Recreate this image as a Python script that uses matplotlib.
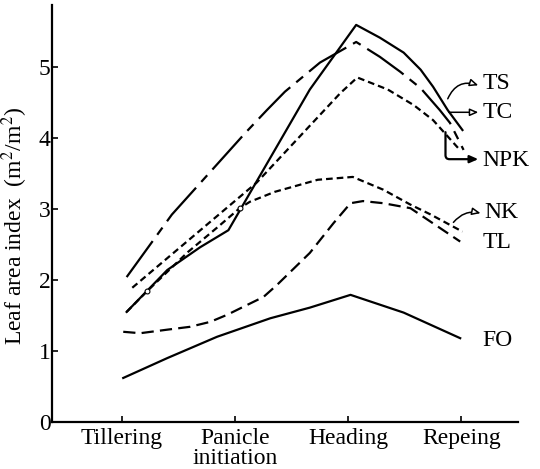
import matplotlib
matplotlib.use("Agg")
import matplotlib.pyplot as plt

plt.rcParams["font.family"] = ["Liberation Serif", "DejaVu Serif"]
plt.rcParams["mathtext.fontset"] = "stix"

# growth stages on the x axis (1 = tillering ... 4 = ripening)
stage_labels = ["Tillering", "Panicle\ninitiation", "Heading", "Repeing"]
stage_pos = [1, 2, 3, 4]

# leaf area index of each treatment (stage, LAI)
ts_x = [1.04, 1.40, 1.69, 1.94, 2.66, 3.07, 3.28, 3.49, 3.64, 3.75, 3.88, 4.01]
ts_y = [1.55, 2.14, 2.46, 2.70, 4.68, 5.59, 5.41, 5.20, 4.96, 4.72, 4.39, 4.11]

tc_x = [1.04, 1.44, 2.09, 2.28, 2.44, 2.75, 3.07, 3.28, 3.46, 3.64, 3.81, 3.90, 4.02]
tc_y = [2.04, 2.92, 4.07, 4.39, 4.65, 5.06, 5.35, 5.14, 4.93, 4.70, 4.39, 4.21, 3.83]

npk_x = [1.09, 2.19, 2.93, 3.08, 3.35, 3.58, 3.75, 3.97]
npk_y = [1.89, 3.37, 4.63, 4.85, 4.68, 4.46, 4.25, 3.86]

nk_x = [1.04, 1.22, 1.58, 1.85, 2.04, 2.13, 2.35, 2.73, 3.04, 3.31, 3.55, 3.73, 4.01]
nk_y = [1.55, 1.84, 2.39, 2.75, 3.01, 3.10, 3.24, 3.41, 3.45, 3.27, 3.06, 2.92, 2.68]

tl_x = [1.01, 1.16, 1.40, 1.60, 1.78, 1.93, 2.07, 2.25, 2.37, 2.66, 2.87, 3.02, 3.13, 3.31, 3.55, 3.99]
tl_y = [1.27, 1.25, 1.30, 1.34, 1.41, 1.51, 1.62, 1.76, 1.93, 2.38, 2.80, 3.08, 3.11, 3.08, 3.01, 2.54]

fo_x = [1.01, 1.40, 1.84, 2.31, 2.66, 3.02, 3.49, 3.99]
fo_y = [0.62, 0.90, 1.20, 1.46, 1.61, 1.79, 1.54, 1.18]

fig = plt.figure(figsize=(5.4, 4.69), dpi=100)
ax = fig.add_axes([0.0963, 0.1002, 0.8627, 0.8891])

lw = 1.6
ax.plot(ts_x, ts_y, color="black", lw=lw)
ax.plot(tc_x, tc_y, color="black", lw=lw, dashes=(20, 3.5, 4, 3.5))
ax.plot(npk_x, npk_y, color="black", lw=lw, dashes=(3, 1.8))
ax.plot(nk_x, nk_y, color="black", lw=lw, dashes=(3, 1.8),
        marker="o", markersize=3.5, markerfacecolor="white", markeredgewidth=0.8,
        markevery=[1, 4])
ax.plot(tl_x, tl_y, color="black", lw=lw, dashes=(5.5, 2.8))
ax.plot(fo_x, fo_y, color="black", lw=lw)

ax.set_xlim(0.38, 4.50)
ax.set_ylim(0, 5.87)
ax.set_xticks(stage_pos)
ax.set_xticklabels(stage_labels, fontsize=17, linespacing=0.95)
ax.set_yticks([0, 1, 2, 3, 4, 5])
ax.tick_params(axis="both", direction="in", length=4, width=1.2, labelsize=17)
ax.tick_params(axis="x", pad=4)
ax.tick_params(axis="y", pad=1)
for side in ("top", "right"):
    ax.spines[side].set_visible(False)
for side in ("left", "bottom"):
    ax.spines[side].set_linewidth(1.6)
ax.set_ylabel("Leaf area index  (m$^2$/m$^2$)", fontsize=17)
ax.yaxis.set_label_coords(-0.047, 0.47)

# treatment labels with their pointer arrows
lab = dict(fontsize=17, va="center", ha="left")
ax.text(4.19, 4.77, "TS", **lab)
ax.text(4.19, 4.35, "TC", **lab)
ax.text(4.19, 3.68, "NPK", **lab)
ax.text(4.20, 2.95, "NK", **lab)
ax.text(4.19, 2.52, "TL", **lab)
ax.text(4.19, 1.15, "FO", **lab)

hollow = dict(arrowstyle="-|>,head_length=0.5,head_width=0.22", color="black",
              lw=1.1, fc="white", shrinkA=0, shrinkB=0)
ax.annotate("", xy=(4.15, 4.74), xytext=(3.88, 4.55),
            arrowprops=dict(connectionstyle="arc3,rad=-0.45", **hollow))
ax.annotate("", xy=(4.15, 4.36), xytext=(3.89, 4.36), arrowprops=hollow)
ax.annotate("", xy=(4.15, 3.70), xytext=(3.86, 4.08),
            arrowprops=dict(arrowstyle="-|>,head_length=0.5,head_width=0.22",
                            color="black", lw=1.6, shrinkA=0, shrinkB=0,
                            connectionstyle="angle,angleA=90,angleB=0,rad=4"))
ax.annotate("", xy=(4.17, 2.94), xytext=(3.93, 2.81),
            arrowprops=dict(connectionstyle="arc3,rad=-0.3", **hollow))

fig.savefig("out.png", dpi=100)
